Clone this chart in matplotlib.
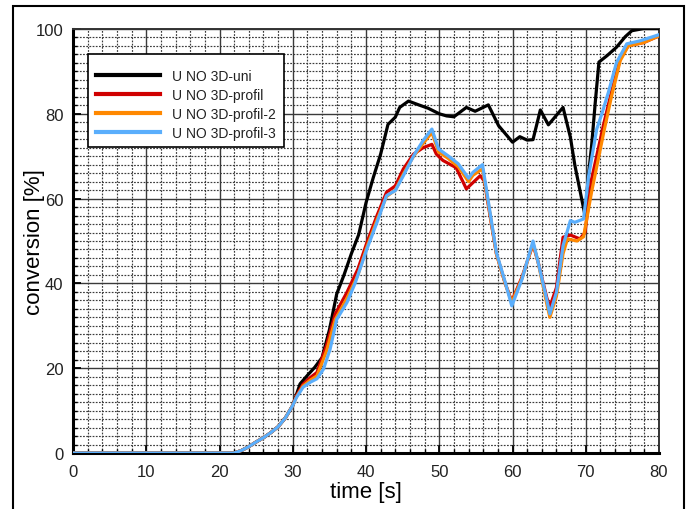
import matplotlib
matplotlib.use("Agg")
import matplotlib.pyplot as plt
from matplotlib.patches import Rectangle
from matplotlib.ticker import MultipleLocator

# ---------------- data ----------------
t_uni = [0, 22, 23, 24, 25, 26, 27, 28, 29, 30, 31, 32, 33, 34, 35, 36, 37, 38, 39, 40,
         41, 42, 43, 44, 44.6, 45.8, 47.2, 48.5, 50, 51, 52, 53.7, 54.9, 56.7, 58.1, 60,
         61, 62, 62.8, 63.8, 64.9, 66.9, 67.9, 68.5, 69.2, 69.9, 70.4, 70.8, 71.3, 71.8,
         72.9, 74.2, 75.4, 76.3, 77.9, 80]
v_uni = [0, 0, 0.6, 1.5, 2.6, 3.6, 4.8, 6.2, 8.3, 11.2, 16.3, 18.3, 20.2, 22.5, 29, 37.5, 42, 47, 51.5, 59,
         65, 70.5, 77.5, 79.2, 81.5, 83, 82.1, 81.3, 80, 79.5, 79.3, 81.5, 80.6, 82.1, 77.2, 73.3,
         74.6, 73.8, 73.9, 80.9, 77.4, 81.5, 74.5, 68, 62, 56, 66, 72.5, 82.7, 92.2,
         93.7, 95.7, 98.2, 99.6, 100.1, 100.1]

t_p1 = [0, 22, 23, 24, 25, 26, 27, 28, 29, 30, 30.5, 31.4, 32.4, 33.3, 34.6, 35.8, 37.4, 38.9,
        40.1, 41.5, 42.8, 44, 45.1, 46.5, 47.8, 49, 49.6, 50.5, 52.3, 53.7, 55.6, 56.2, 56.5,
        57.8, 59, 59.9, 61.3, 62.8, 63.5, 64.7, 65.1, 66, 66.9, 67.9, 69.2, 69.9, 70.8, 72.4,
        73.5, 74.7, 75.8, 77.9, 79.9]
v_p1 = [0, 0, 0.6, 1.5, 2.6, 3.6, 4.8, 6.2, 8.3, 11.2, 13.5, 16.2, 17.8, 19, 25.3, 32.8, 37.9, 43.4,
        49.5, 56, 61.5, 63, 67, 70.5, 72, 72.8, 70.5, 69, 67.3, 62.3, 65.4, 64, 60.5,
        47, 40, 35.8, 41.5, 49.2, 45, 36.5, 34.5, 39, 50.9, 51.4, 50.5, 52, 64.6, 77.2,
        85.1, 92.9, 96.1, 96.8, 98.3]

t_p2 = [0, 22, 23, 24, 25, 26, 27, 28, 29, 30, 30.5, 31.4, 32.4, 33.3, 34.6, 35.8, 37.4, 38.9,
        40.1, 41.5, 42.8, 44, 45.1, 46.5, 47.8, 49, 49.9, 51.2, 52.6, 54, 54.6, 55.9, 56.5,
        57.8, 59, 59.9, 61.3, 62.8, 63.5, 64.7, 65.1, 66, 66.9, 67.5, 68.8, 69.7, 70.8, 72.5,
        73.5, 74.7, 75.8, 77.9, 79.9]
v_p2 = [0, 0, 0.6, 1.5, 2.6, 3.6, 4.8, 6.2, 8.3, 11.2, 13.2, 15.8, 17.2, 18.2, 24, 31.5, 36.5, 42,
        48.5, 55, 60.5, 62, 65.8, 70, 73, 75.6, 71, 69.5, 67.5, 64, 65.5, 67, 61,
        47, 40, 35.5, 41.2, 49.5, 45, 35, 32, 37, 47, 50.5, 50, 51, 61.6, 76,
        84, 92.5, 96, 96.8, 98.3]

t_p3 = [0, 22, 23, 24, 25, 26, 27, 28, 29, 30, 30.5, 31.4, 32.4, 33.3, 34.2, 35.1, 36, 37.4, 38.5,
        40.1, 41.5, 42.8, 44, 45.1, 46.5, 47.8, 49, 49.9, 51.2, 52.6, 53.5, 54, 54.6, 55.9,
        56.5, 57.8, 59, 59.9, 61.3, 62.8, 63.5, 64.7, 65.1, 66, 66.9, 67.9, 68.5, 69.7, 70.4,
        71.5, 72.2, 73.1, 74.2, 75.6, 77.4, 79.9]
v_p3 = [0, 0, 0.6, 1.5, 2.6, 3.6, 4.8, 6.2, 8.3, 11.2, 13.1, 15.5, 16.7, 17.5, 19.8, 24.5, 31.5, 35.5, 40,
        48, 54.4, 60.7, 61.9, 65.4, 70.1, 73.7, 76.4, 71.7, 70.1, 68.2, 66, 64.8, 66.2, 68,
        61.5, 47.3, 40.3, 34.7, 41, 50, 45, 36, 32.8, 37.9, 48.9, 54.8, 54.4, 55.2, 65.4,
        76.4, 80, 85.1, 92.1, 96.5, 97.2, 98.6]

labels = ["U NO 3D-uni", "U NO 3D-profil", "U NO 3D-profil-2", "U NO 3D-profil-3"]
colors = ["#000000", "#d00000", "#ff8800", "#5aaefc"]
x_ticks = [0, 10, 20, 30, 40, 50, 60, 70, 80]
y_ticks = [0, 20, 40, 60, 80, 100]

plt.rcParams['font.family'] = ['Liberation Sans', 'DejaVu Sans']

# ---------------- figure ----------------
W, H = 691, 510
fig = plt.figure(figsize=(W / 100, H / 100), dpi=100)
fig.patch.set_facecolor('white')

# outer frame
fig.add_artist(Rectangle((13 / W, -0.02), (684 - 13) / W, (H - 7) / H + 0.02,
                         transform=fig.transFigure, fill=False, edgecolor='black', lw=1.5))

ax = fig.add_axes([73 / W, (H - 454) / H, (659 - 73) / W, (454 - 30) / H])

series = [(t_uni, v_uni), (t_p1, v_p1), (t_p2, v_p2), (t_p3, v_p3)]
for (tt, vv), c, lab in zip(series, colors, labels):
    ax.plot(tt, vv, color=c, lw=2.3, label=lab, solid_joinstyle='round', zorder=3)

ax.set_xlim(0, 80)
ax.set_ylim(0, 100)
ax.set_xticks(x_ticks)
ax.set_yticks(y_ticks)
ax.xaxis.set_minor_locator(MultipleLocator(2))
ax.yaxis.set_minor_locator(MultipleLocator(2))

ax.grid(which='major', color='#3a3a3a', lw=1.0, ls='-', zorder=1)
ax.grid(which='minor', color='#3c3c3c', lw=0.85, ls=(0, (1.5, 1.2)), zorder=1)
ax.set_axisbelow(True)

ax.tick_params(which='both', direction='in', top=False, right=False)
ax.tick_params(which='major', length=6, width=1.3, labelsize=12, pad=8,
               labelcolor='#222222')
ax.tick_params(which='minor', length=3, width=1.0)
ax.tick_params(axis='y', which='major', pad=7)

for s in ['left', 'bottom']:
    ax.spines[s].set_linewidth(2.2)
    ax.spines[s].set_color('black')
for s in ['top', 'right']:
    ax.spines[s].set_linewidth(1.4)
    ax.spines[s].set_color('#333333')

ax.set_xlabel('time [s]', fontsize=16)
ax.set_ylabel('conversion [%]', fontsize=16)
ax.xaxis.set_label_coords(0.5, -0.066)
ax.yaxis.set_label_coords(-0.048, 0.5)

# legend box (manual frame)
x0 = (88 - 73) / 586
x1 = (284 - 73) / 586
y1 = (454 - 55) / 424
y0 = (454 - 148) / 424
ax.add_patch(Rectangle((x0, y0), x1 - x0, y1 - y0, transform=ax.transAxes,
                       facecolor='white', edgecolor='black', lw=1.2, zorder=4))
leg = ax.legend(loc='upper left', bbox_to_anchor=((96 - 73) / 586, (454 - 70) / 424),
                frameon=False, borderpad=0, borderaxespad=0, fontsize=10,
                handlelength=4.6, handletextpad=0.9, labelspacing=0.36)
leg.set_zorder(5)
for h in leg.get_lines():
    h.set_linewidth(3)
for tx in leg.get_texts():
    tx.set_color('#222222')

fig.savefig('out.png', dpi=100, facecolor='white')
